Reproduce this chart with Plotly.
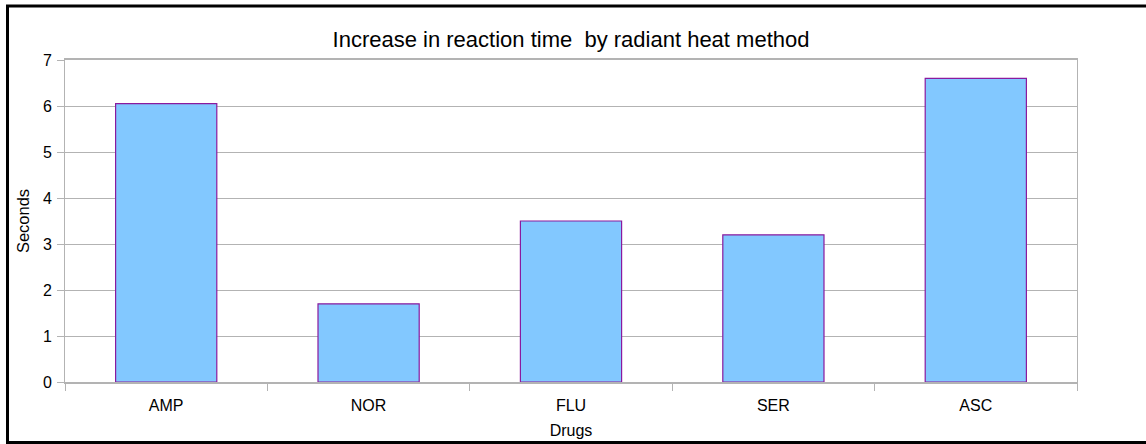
import plotly.graph_objects as go

categories = ["AMP", "NOR", "FLU", "SER", "ASC"]
values = [6.05, 1.7, 3.5, 3.2, 6.6]
y_ticks = [0, 1, 2, 3, 4, 5, 6, 7]

W, H = 1146, 444
L, R, T, B = 65, 69, 60, 62
pw, ph = W - L - R, H - T - B

def px(x):
    return (x - L) / pw

def py(y):
    return (H - B - y) / ph

fig = go.Figure()
fig.add_trace(go.Bar(
    x=categories, y=values, width=0.5,
    marker=dict(color="#82c8ff", line=dict(color="#8a1a9e", width=1.2)),
    hoverinfo="none",
))

fig.update_layout(
    width=W, height=H,
    margin=dict(l=L, r=R, t=T, b=B, autoexpand=False),
    paper_bgcolor="white", plot_bgcolor="white",
    font=dict(family="Liberation Sans, Arial, sans-serif", size=16, color="#000000"),
    title=dict(text="Increase in reaction time  by radiant heat method",
               x=0.5, xref="paper", xanchor="center", y=1 - 39.5 / H, yanchor="middle",
               font=dict(size=22)),
    showlegend=False,
    bargap=0.5,
    xaxis=dict(
        title=dict(text="Drugs", font=dict(size=16), standoff=12),
        showline=True, linecolor="#b3b3b3", linewidth=2, mirror=True,
        ticks="outside", tickson="boundaries", ticklen=7, tickcolor="#b3b3b3",
        ticklabelstandoff=8,
        showgrid=False, tickfont=dict(size=16),
    ),
    yaxis=dict(
        title=dict(text="Seconds", font=dict(size=16.5), standoff=9),
        range=[0, 7], tickvals=y_ticks,
        showline=True, linecolor="#b3b3b3", linewidth=1, mirror=True,
        ticks="outside", ticklen=7, tickcolor="#b3b3b3",
        ticklabelstandoff=2,
        showgrid=True, gridcolor="#b3b3b3", gridwidth=1,
        zeroline=False, tickfont=dict(size=16),
    ),
    shapes=[dict(type="rect", xref="paper", yref="paper",
                 x0=px(7.5), x1=px(1160), y0=py(442.5), y1=py(6),
                 line=dict(color="#000000", width=3), layer="above")],
)

fig.write_html("out.html", config={"displayModeBar": False},
               post_script="document.body.style.margin='0';document.body.style.overflow='hidden';")
